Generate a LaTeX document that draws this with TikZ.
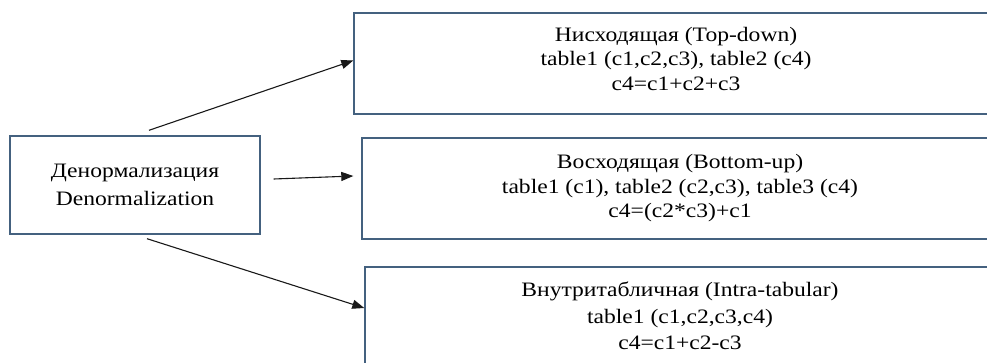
\documentclass[tikz,border=0pt]{standalone}
\usepackage{fontspec}
\setmainfont[FakeStretch=1.15]{Liberation Serif}
\usetikzlibrary{arrows.meta}
\definecolor{boxblue}{HTML}{44617F}
\tikzset{
  box/.style={draw=boxblue, line width=1.4pt, rectangle, align=center, inner sep=0pt,
    font=\rmfamily\fontsize{20.5}{24.5}\selectfont},
  arr/.style={line width=1.1pt, draw=black!90, -{Triangle[length=12pt,width=9pt]}}
}
\begin{document}
\begin{tikzpicture}[x=1pt,y=-1pt]
\useasboundingbox (0,0) rectangle (987,363);
\node[box, minimum width=250pt, minimum height=98pt, font=\rmfamily\fontsize{20.5}{28}\selectfont] (dn) at (135,185)
  {Денормализация\\Denormalization};
\node[box, minimum width=644pt, minimum height=101pt, text depth=10pt] (td) at (676,63.5)
  {Нисходящая (Top-down)\\table1 (c1,c2,c3), table2 (c4)\\c4=c1+c2+c3};
\node[box, minimum width=636pt, minimum height=101pt, text depth=5pt] (bu) at (680,188.5)
  {Восходящая (Bottom-up)\\table1 (c1), table2 (c2,c3), table3 (c4)\\c4=(c2*c3)+c1};
\node[box, minimum width=630pt, minimum height=101pt, text depth=3pt, font=\rmfamily\fontsize{20.5}{26.5}\selectfont] (it) at (680,317.5)
  {Внутритабличная (Intra-tabular)\\table1 (c1,c2,c3,c4)\\c4=c1+c2-c3};
\draw[arr] ([xshift=14pt,yshift=5pt]dn.north) -- ([yshift=3pt]td.west);
\draw[arr] ([xshift=13pt,yshift=6pt]dn.east) -- ([xshift=-8pt,yshift=12.5pt]bu.west);
\draw[arr] ([xshift=12pt,yshift=-4pt]dn.south) -- ([yshift=9.5pt]it.west);
\end{tikzpicture}
\end{document}
